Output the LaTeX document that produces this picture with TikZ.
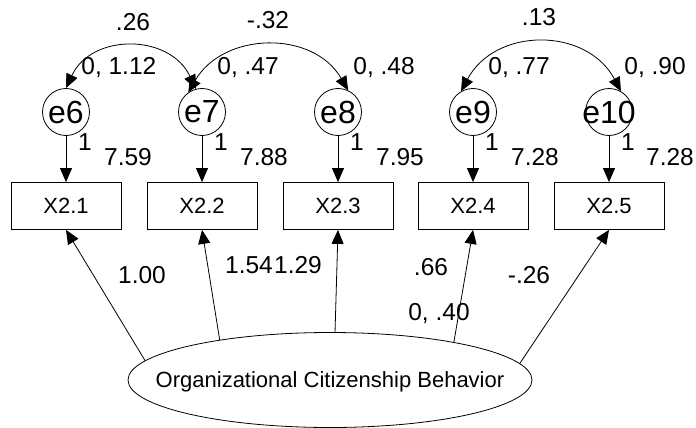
\documentclass[tikz,border=0pt]{standalone}
\usepackage{fontspec}
\setmainfont{Liberation Sans}
\usetikzlibrary{shapes,arrows.meta,positioning,calc}

\begin{document}
\begin{tikzpicture}[x=1pt,y=-1pt,line width=0.8pt,
		obs/.style={draw,rectangle,minimum width=110pt,minimum height=47pt,inner sep=0pt,font=\fontsize{22}{26}\selectfont},
		err/.style={draw,circle,minimum size=47pt,inner sep=0pt,font=\fontsize{32}{36}\selectfont},
		lat/.style={draw,ellipse,minimum width=404pt,minimum height=95pt,inner sep=0pt,text depth=0pt,font=\fontsize{22}{26}\selectfont},
		num/.style={inner sep=0pt,text depth=0pt,font=\fontsize{24.5}{28}\selectfont},
		tip/.style={-{Triangle[width=12pt,length=14pt]}},
		cov/.style={{Triangle[width=12pt,length=14pt]}-{Triangle[width=12pt,length=14pt]}}]
						\useasboundingbox (0,0) rectangle (696,428);
						% Indicators
						\node[obs] (x1) at (66,206) {X2.1};
						\node[obs] (x2) at (202,206) {X2.2};
						\node[obs] (x3) at (338,206) {X2.3};
						\node[obs] (x4) at (473,206) {X2.4};
						\node[obs] (x5) at (609,206) {X2.5};
						% Error terms
						\node[err] (e6) at (66,112) {\makebox[0pt]{e6}};
						\node[err] (e7) at (202,112) {\makebox[0pt]{e7}};
						\node[err] (e8) at (338,112) {\makebox[0pt]{e8}};
						\node[err] (e9) at (473,112) {\makebox[0pt]{e9}};
						\node[err] (e10) at (609,112) {\makebox[0pt]{e10}};
						% Latent factor
						\node[lat] (ocb) at (330,380) {\makebox[0pt]{Organizational Citizenship Behavior}};
						% Error paths
						\draw[tip] (e6) -- (x1);
						\draw[tip] (e7) -- (x2);
						\draw[tip] (e8) -- (x3);
						\draw[tip] (e9) -- (x4);
						\draw[tip] (e10) -- (x5);
						% Loadings
						\draw[tip] (ocb.174) -- (x1.south);
						\draw[tip] (ocb.160) -- (x2.south);
						\draw[tip] (ocb.84) -- (x3.south);
						\draw[tip] (ocb.17) -- (x4.south);
						\draw[tip] (ocb.5) -- (x5.south);
						% Covariances
						\draw[cov] (e6.90) to[out=65,in=115,looseness=1.2] (e7.105);
						\draw[cov] (e7.125) to[out=60,in=120,looseness=1.12] (e8.65);
						\draw[cov] (e9.120) to[out=62,in=118,looseness=1.17] (e10.60);
						% Estimates
						\node[num] (c67) at (133,22) {.26};
						\node[num] (c78) at (268,20) {-.32};
						\node[num] (c910) at (539,17) {.13};
						\node[num,anchor=west] (v6) at (81,66) {0, 1.12};
						\node[num,anchor=west] (v7) at (217,66) {0, .47};
						\node[num,anchor=west] (v8) at (353,66) {0, .48};
						\node[num,anchor=west] (v9) at (488,66) {0, .77};
						\node[num,anchor=west] (v10) at (624,66) {0, .90};
						\node[num] (w6) at (85,142) {1};
						\node[num] (w7) at (221,142) {1};
						\node[num] (w8) at (357,142) {1};
						\node[num] (w9) at (492,142) {1};
						\node[num] (w10) at (628,142) {1};
						\node[num] (i1) at (128,157) {7.59};
						\node[num] (i2) at (264,157) {7.88};
						\node[num] (i3) at (400,157) {7.95};
						\node[num] (i4) at (535,157) {7.28};
						\node[num] (i5) at (670,157) {7.28};
						\node[num] (l1) at (142,275) {1.00};
						\node[num] (l2) at (249,265) {1.54};
						\node[num] (l3) at (298,265) {1.29};
						\node[num] (l4) at (431,267) {.66};
						\node[num] (l5) at (529,275) {-.26};
						\node[num] (vo) at (439,312) {0, .40};
					\end{tikzpicture}
\end{document}
